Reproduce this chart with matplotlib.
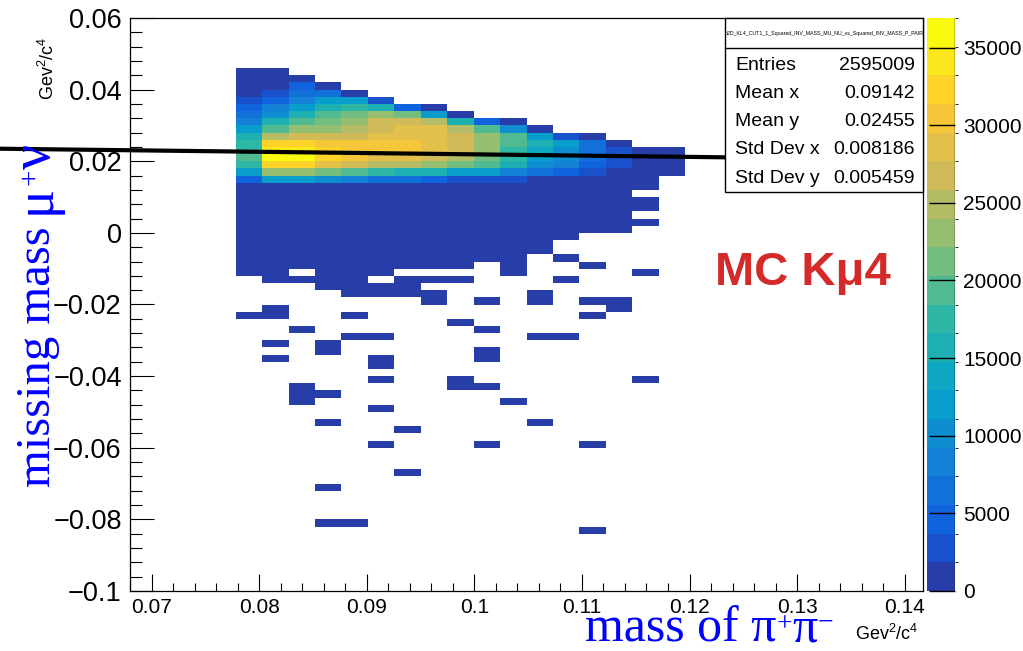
import matplotlib
matplotlib.use("Agg")
import matplotlib.pyplot as plt
import numpy as np
from matplotlib.colors import ListedColormap, BoundaryNorm
from matplotlib.patches import Rectangle
from matplotlib.lines import Line2D
from matplotlib.ticker import MultipleLocator, FuncFormatter

plt.rcParams["font.family"] = ["Liberation Sans", "DejaVu Sans"]
plt.rcParams["mathtext.default"] = "regular"

# TH2 binning
x_min, x_max, nx = 0.068, 0.1417, 30
y_min, y_max, ny = -0.1, 0.06, 80
first_col = 4          # first filled x bin
z_max = 36.9           # colour scale top, thousands of entries

# top edge of the filled part of each column
col_top = [0.046, 0.046, 0.044, 0.042, 0.040, 0.038, 0.036, 0.036, 0.034,
           0.032, 0.032, 0.030, 0.028, 0.028, 0.026, 0.024, 0.024]

# bin contents (thousands), from the top row downwards
core_counts = [
    [0.9, 0.9, 0.9, 0.9, 2.8, 4.6, 6.5, 8.3, 12.0, 15.7, 17.5, 17.5, 19.4, 17.5, 12.0, 4.6],
    [0.9, 0.9, 0.9, 2.8, 4.6, 8.3, 10.1, 15.7, 19.4, 24.9, 32.3, 34.1, 36.0, 32.3, 23.1, 12.0],
    [0.9, 4.6, 6.5, 8.3, 12.0, 15.7, 19.4, 23.1, 26.8, 32.3, 34.1, 36.0, 32.3, 23.1, 12.0],
    [0.9, 6.5, 12.0, 15.7, 19.4, 21.2, 23.1, 26.8, 30.4, 32.3, 32.3, 28.6, 21.2, 10.1],
    [0.9, 12.0, 17.5, 21.2, 23.1, 24.9, 26.8, 30.4, 30.4, 30.4, 26.8, 19.4, 8.3],
    [2.8, 15.7, 23.1, 26.8, 26.8, 28.6, 30.4, 30.4, 28.6, 24.9, 17.5, 6.5],
    [4.6, 21.2, 26.8, 28.6, 28.6, 30.4, 30.4, 28.6, 24.9, 15.7, 6.5],
    [0.9, 12.0, 24.9, 28.6, 28.6, 28.6, 28.6, 26.8, 23.1, 15.7, 4.6],
    [0.9, 15.7, 24.9, 26.8, 26.8, 26.8, 24.9, 21.2, 12.0, 2.8],
    [4.6, 19.4, 23.1, 23.1, 23.1, 21.2, 19.4, 12.0, 2.8],
    [0.9, 10.1, 19.4, 19.4, 17.5, 17.5, 15.7, 8.3, 2.8],
    [0.9, 12.0, 15.7, 13.8, 12.0, 10.1, 6.5, 0.9],
    [2.8, 12.0, 10.1, 10.1, 8.3, 4.6, 0.9],
    [0.9, 6.5, 6.5, 6.5, 4.6, 2.8, 0.9],
    [0.9, 2.8, 2.8, 2.8, 0.9, 0.9],
    [0.9, 0.9, 0.9, 0.9, 0.9],
    [0.9, 0.9, 0.9, 0.9],
]

# low-count (y_low, y_high) ranges below the core, per column
low_count = 0.3
low_runs = [
    [(-0.012, 0.014), (-0.024, -0.022)],
    [(-0.014, 0.014), (-0.024, -0.020), (-0.032, -0.030), (-0.036, -0.034)],
    [(-0.010, 0.014), (-0.014, -0.012), (-0.028, -0.026), (-0.048, -0.042)],
    [(-0.016, 0.014), (-0.034, -0.030), (-0.046, -0.044), (-0.054, -0.052),
     (-0.072, -0.070), (-0.082, -0.080)],
    [(-0.018, 0.014), (-0.024, -0.022), (-0.030, -0.028), (-0.082, -0.080)],
    [(-0.012, 0.014), (-0.018, -0.014), (-0.030, -0.028), (-0.038, -0.034),
     (-0.042, -0.040), (-0.050, -0.048), (-0.060, -0.058)],
    [(-0.010, 0.014), (-0.018, -0.012), (-0.056, -0.054), (-0.068, -0.066)],
    [(-0.010, 0.014), (-0.014, -0.012), (-0.020, -0.016)],
    [(-0.010, 0.014), (-0.014, -0.012), (-0.026, -0.024), (-0.044, -0.040)],
    [(-0.008, 0.014), (-0.020, -0.018), (-0.028, -0.026), (-0.036, -0.032),
     (-0.044, -0.042), (-0.060, -0.058)],
    [(-0.012, 0.014), (-0.048, -0.046)],
    [(-0.006, 0.014), (-0.020, -0.016), (-0.030, -0.028), (-0.054, -0.052)],
    [(-0.002, 0.014), (-0.008, -0.006), (-0.014, -0.012), (-0.030, -0.028)],
    [(0.000, 0.014), (-0.010, -0.008), (-0.020, -0.018), (-0.024, -0.022),
     (-0.060, -0.058), (-0.084, -0.082)],
    [(0.000, 0.014), (-0.022, -0.018)],
    [(0.012, 0.014), (0.006, 0.010), (0.002, 0.004), (-0.012, -0.010), (-0.042, -0.040)],
    [],
]

# straight cut line drawn over the histogram
cut_line_x = [0.0559, 0.1233]
cut_line_y = [0.0235, 0.0211]

stat_names = ["Entries", "Mean x", "Mean y", "Std Dev x", "Std Dev y"]
stat_values = ["2595009", "0.09142", "0.02455", "0.008186", "0.005459"]
hist_name = "h2D_KL4_CUT1_1_Squared_INV_MASS_MU_NU_vs_Squared_INV_MASS_P_PAIR"

# ROOT kBird palette, 20 contour levels
bird_stops = [0.0, 0.125, 0.25, 0.375, 0.5, 0.625, 0.75, 0.875, 1.0]
bird_r = [0.2082, 0.0592, 0.0780, 0.0232, 0.1802, 0.5301, 0.8186, 0.9956, 0.9764]
bird_g = [0.1664, 0.3599, 0.5041, 0.6419, 0.7178, 0.7492, 0.7328, 0.7862, 0.9832]
bird_b = [0.5293, 0.8684, 0.8385, 0.7914, 0.6425, 0.4662, 0.3499, 0.1968, 0.0539]


def bird(t):
    return (np.interp(t, bird_stops, bird_r), np.interp(t, bird_stops, bird_g),
            np.interp(t, bird_stops, bird_b))


band_colors = [bird(int((k + 0.99) * 255 / 20) / 254) for k in range(20)]
cmap = ListedColormap(band_colors)
norm = BoundaryNorm(np.linspace(0, z_max, 21), 20)

# fill the histogram
dy = (y_max - y_min) / ny
x_edges = np.linspace(x_min, x_max, nx + 1)
y_edges = np.linspace(y_min, y_max, ny + 1)
z = np.zeros((ny, nx))
for j, (top, vals) in enumerate(zip(col_top, core_counts)):
    row = int(round((top - y_min) / dy)) - 1
    for i, v in enumerate(vals):
        z[row - i, first_col + j] = v
for j, runs in enumerate(low_runs):
    for lo, hi in runs:
        r0 = int(round((lo - y_min) / dy))
        r1 = int(round((hi - y_min) / dy))
        z[r0:r1, first_col + j] = low_count
z = np.ma.masked_equal(z, 0)

W, H = 1023, 651
fig = plt.figure(figsize=(W / 100, H / 100), dpi=100)
ax = fig.add_axes([130 / W, 1 - 591 / H, 793 / W, 573 / H])
cax = fig.add_axes([927 / W, 1 - 591 / H, 28 / W, 573 / H])
renderer = fig.canvas.get_renderer()

mesh = ax.pcolormesh(x_edges, y_edges, z, cmap=cmap, norm=norm,
                     edgecolors="none", antialiased=False)
ax.plot(cut_line_x, cut_line_y, color="black", lw=3, clip_on=False,
        solid_capstyle="butt", zorder=4)

ax.set_xlim(x_min, x_max)
ax.set_ylim(y_min, y_max)
fmt = FuncFormatter(lambda v, _: ("%g" % round(v, 4)).replace("-", "\u2212"))
ax.set_xticks(np.arange(0.07, 0.1401, 0.01))
ax.set_yticks(np.arange(-0.1, 0.0601, 0.02))
ax.xaxis.set_major_formatter(fmt)
ax.yaxis.set_major_formatter(fmt)
ax.xaxis.set_minor_locator(MultipleLocator(0.002))
ax.yaxis.set_minor_locator(MultipleLocator(0.004))
ax.tick_params(axis="x", which="major", direction="in", length=12, width=0.8,
               labelsize=15, pad=5)
ax.tick_params(axis="x", which="minor", direction="in", length=6, width=0.8)
ax.tick_params(axis="y", which="major", direction="in", length=17, width=0.8,
               labelsize=19.5, pad=6)
ax.tick_params(axis="y", which="minor", direction="in", length=8.5, width=0.8)
for s in ax.spines.values():
    s.set_linewidth(0.9)

cb = fig.colorbar(mesh, cax=cax, ticks=np.arange(0, 35.1, 5))
cb.outline.set_visible(False)
cax.yaxis.set_major_formatter(FuncFormatter(lambda v, _: "%d" % round(v * 1000)))
cax.tick_params(direction="in", length=19, width=1, labelsize=15, pad=6)
cax.add_line(Line2D([1, 1], [0, 1], transform=cax.transAxes, color="black", lw=1))


def write_parts(x0, y0, parts, vertical=False, **kw):
    """Put text pieces one after another; each piece is (text, size, rise in px)."""
    pos = x0 if not vertical else y0
    for s, size, rise in parts:
        if vertical:
            t = fig.text((x0 - rise) / W, 1 - pos / H, s, fontsize=size, rotation=90,
                         rotation_mode="anchor", ha="left", va="baseline", **kw)
            pos -= t.get_window_extent(renderer).height
        else:
            t = fig.text(pos / W, 1 - (y0 - rise) / H, s, fontsize=size,
                         va="baseline", **kw)
            pos += t.get_window_extent(renderer).width


# axis titles
serif_blue = dict(color="blue", family="Liberation Serif")
write_parts(585, 642, [("mass of \u03c0", 36, 0), ("+", 20, 11), ("\u03c0", 36, 0),
                       ("\u2212", 20, 12)], **serif_blue)
fig.text(855 / W, 1 - 640 / H, r"Gev$^{2}$/c$^{4}$", fontsize=13, va="baseline")
write_parts(50, 487, [("missing mass ", 35, 0), ("\u03bc", 39, 0), ("+", 21, 13),
                      ("\u03bd", 40, 0)], vertical=True, **serif_blue)
fig.text(54 / W, 1 - 100 / H, r"Gev$^{2}$/c$^{4}$", fontsize=13, rotation=90,
         rotation_mode="anchor", ha="left", va="baseline")

fig.text(715 / W, 1 - 285 / H, "MC K\u03bc4", color="#d42a2a", fontsize=34,
         fontweight="bold", va="baseline")

# stats box
fig.add_artist(Rectangle((725 / W, 1 - 192 / H), 198 / W, 174 / H, transform=fig.transFigure,
                         facecolor="white", edgecolor="black", lw=1, zorder=5))
fig.add_artist(Line2D([725 / W, 923 / W], [1 - 48 / H, 1 - 48 / H], transform=fig.transFigure,
                      color="black", lw=1, zorder=6))
fig.text(824 / W, 1 - 33 / H, hist_name, fontsize=3.8, ha="center", va="center", zorder=6)
for i, (name, val) in enumerate(zip(stat_names, stat_values)):
    yy = 1 - (65 + 28.3 * i) / H
    fig.text(735 / W, yy, name, fontsize=14, va="center", zorder=6)
    fig.text(915 / W, yy, val, fontsize=14, va="center", ha="right", zorder=6)

fig.savefig("out.png", dpi=100)
